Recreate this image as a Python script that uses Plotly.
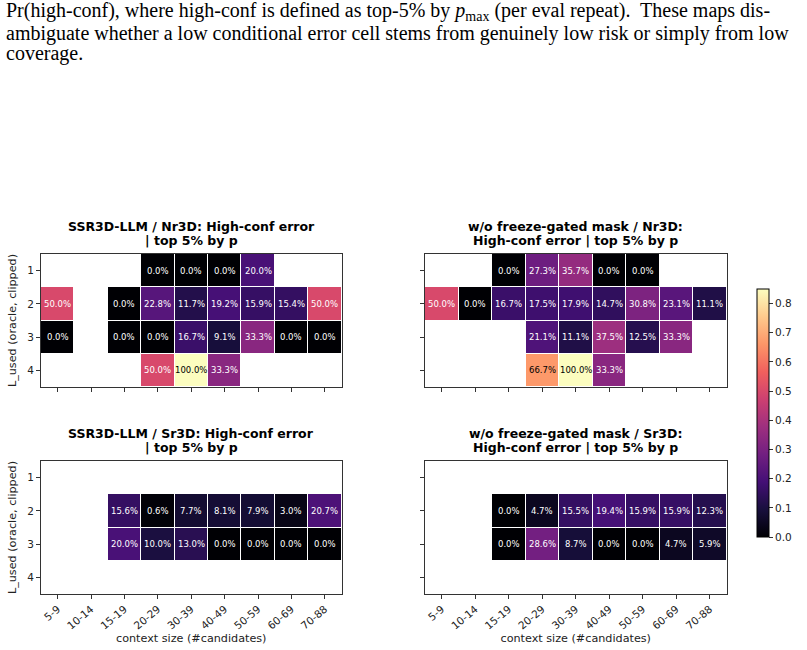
import numpy as np
import plotly.graph_objects as go

nan = None
context_bins = ["5-9", "10-14", "15-19", "20-29", "30-39", "40-49", "50-59", "60-69", "70-88"]
l_used = ["1", "2", "3", "4"]

# values in percent, rows = L_used 1..4, cols = context bins
nr3d_ssr = [
    [nan, nan, nan, 0.0, 0.0, 0.0, 20.0, nan, nan],
    [50.0, nan, 0.0, 22.8, 11.7, 19.2, 15.9, 15.4, 50.0],
    [0.0, nan, 0.0, 0.0, 16.7, 9.1, 33.3, 0.0, 0.0],
    [nan, nan, nan, 50.0, 100.0, 33.3, nan, nan, nan],
]
nr3d_wo = [
    [nan, nan, 0.0, 27.3, 35.7, 0.0, 0.0, nan, nan],
    [50.0, 0.0, 16.7, 17.5, 17.9, 14.7, 30.8, 23.1, 11.1],
    [nan, nan, nan, 21.1, 11.1, 37.5, 12.5, 33.3, nan],
    [nan, nan, nan, 66.7, 100.0, 33.3, nan, nan, nan],
]
sr3d_ssr = [
    [nan] * 9,
    [nan, nan, 15.6, 0.6, 7.7, 8.1, 7.9, 3.0, 20.7],
    [nan, nan, 20.0, 10.0, 13.0, 0.0, 0.0, 0.0, 0.0],
    [nan] * 9,
]
sr3d_wo = [
    [nan] * 9,
    [nan, nan, 0.0, 4.7, 15.5, 19.4, 15.9, 15.9, 12.3],
    [nan, nan, 0.0, 28.6, 8.7, 0.0, 0.0, 4.7, 5.9],
    [nan] * 9,
]

titles = [
    ["SSR3D-LLM / Nr3D: High-conf error", "| top 5% by p"],
    ["w/o freeze-gated mask / Nr3D:", "High-conf error | top 5% by p"],
    ["SSR3D-LLM / Sr3D: High-conf error", "| top 5% by p"],
    ["w/o freeze-gated mask / Sr3D:", "High-conf error | top 5% by p"],
]
panels = [nr3d_ssr, nr3d_wo, sr3d_ssr, sr3d_wo]

ZMAX = 0.85
W, H = 807, 650

def px_x(v):
    return v / W

def px_y(v):
    return 1 - v / H

xdoms = [(41, 341.5), (425, 726.5), (41, 341.5), (425, 726.5)]
ydoms = [(254, 387), (254, 387), (461, 594), (461, 594)]

FONT = "DejaVu Sans"
fig = go.Figure()
annotations = []

for i, data in enumerate(panels):
    k = "" if i == 0 else str(i + 1)
    arr = np.array([[np.nan if v is None else v / 100.0 for v in row] for row in data])
    fig.add_trace(go.Heatmap(
        z=arr, x=list(range(9)), y=list(range(4)),
        colorscale="Magma", zmin=0, zmax=ZMAX,
        xgap=1, ygap=1, hoverongaps=False,
        showscale=(i == 0),
        colorbar=dict(
            x=px_x(757), xanchor="left", xpad=0, ypad=0,
            y=px_y(413), yanchor="middle", len=248 / H, lenmode="fraction",
            thickness=12, thicknessmode="pixels",
            outlinecolor="black", outlinewidth=1,
            tickvals=[0, 0.1, 0.2, 0.3, 0.4, 0.5, 0.6, 0.7, 0.8],
            ticktext=["0.0", "0.1", "0.2", "0.3", "0.4", "0.5", "0.6", "0.7", "0.8"],
            ticks="outside", ticklen=4, tickcolor="#333",
            tickfont=dict(family=FONT, size=10.5, color="#222"),
        ),
        xaxis="x" + k, yaxis="y" + k,
    ))
    bottom = i >= 2
    left = i % 2 == 0
    xaxis = dict(
        domain=[px_x(xdoms[i][0]), px_x(xdoms[i][1])],
        anchor="y" + k, range=[-0.5, 8.5],
        tickvals=list(range(9)), ticktext=context_bins, showticklabels=bottom,
        tickangle=-40, ticks="outside", ticklen=4, tickcolor="#333",
        showline=True, linecolor="#333", linewidth=1, mirror=True,
        showgrid=False, zeroline=False,
        tickfont=dict(family=FONT, size=10.5, color="#222"),
    )
    if bottom:
        xaxis["title"] = dict(text="context size (#candidates)",
                              font=dict(family=FONT, size=11.2, color="#222"), standoff=2)
    yaxis = dict(
        domain=[px_y(ydoms[i][1]), px_y(ydoms[i][0])],
        anchor="x" + k, range=[3.5, -0.5],
        tickvals=list(range(4)), ticktext=l_used, showticklabels=left,
        ticks="outside", ticklen=4, tickcolor="#333",
        showline=True, linecolor="#333", linewidth=1, mirror=True,
        showgrid=False, zeroline=False,
        tickfont=dict(family=FONT, size=10.5, color="#222"),
    )
    if left:
        yaxis["title"] = dict(text="L_used (oracle, clipped)",
                              font=dict(family=FONT, size=11.2, color="#222"), standoff=8)
    fig.update_layout(**{"xaxis" + k: xaxis, "yaxis" + k: yaxis})
    # cell labels
    for r in range(4):
        for c in range(9):
            v = data[r][c]
            if v is None:
                continue
            col = "black" if v / 100.0 / ZMAX > 0.7 else "white"
            annotations.append(dict(
                x=c, y=r, xref="x" + k, yref="y" + k, text=f"{v:.1f}%",
                showarrow=False, font=dict(family=FONT, size=8.5, color=col),
            ))
    # title (two lines)
    cx = (xdoms[i][0] + xdoms[i][1]) / 2
    for j, line in enumerate(titles[i]):
        annotations.append(dict(
            x=px_x(cx), y=px_y(ydoms[i][0] - 28 + 14 * j), xref="paper", yref="paper",
            xanchor="center", yanchor="middle", text="<b>" + line + "</b>",
            showarrow=False, font=dict(family=FONT, size=12.5, color="black"),
        ))

# caption text above the figure
caption_lines = [
    "Pr(high-conf), where high-conf is defined as top-5% by <i>p</i><sub>max</sub> (per eval repeat).  These maps dis-",
    "ambiguate whether a low conditional error cell stems from genuinely low risk or simply from low",
    "coverage.",
]
for line, yc in zip(caption_lines, [12, 33, 54]):
    annotations.append(dict(
        x=px_x(4), y=px_y(yc), xref="paper", yref="paper",
        xanchor="left", yanchor="middle", text=line, showarrow=False,
        font=dict(family="Liberation Serif", size=20, color="black"),
    ))

fig.update_layout(
    width=W, height=H, margin=dict(l=0, r=0, t=0, b=0),
    paper_bgcolor="white", plot_bgcolor="white",
    annotations=annotations, showlegend=False,
)
fig.write_html("out.html")
